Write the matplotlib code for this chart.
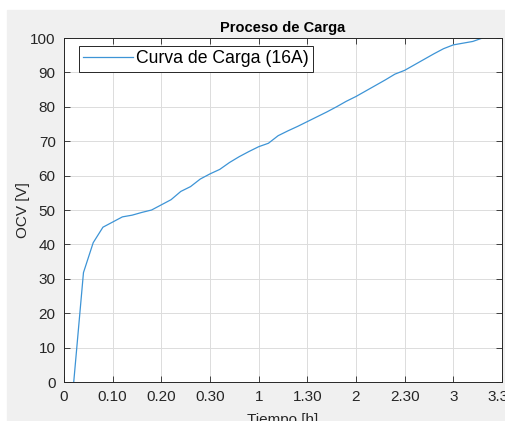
import matplotlib
matplotlib.use("Agg")
import matplotlib.pyplot as plt
from matplotlib.patches import Rectangle

plt.rcParams["font.family"] = ["Liberation Sans", "DejaVu Sans"]

# charge curve, x in tick units (one tick per half-hour label)
tiempo = [0.2, 0.4, 0.6, 0.8, 1.0, 1.2, 1.4, 1.6, 1.8, 2.0,
          2.2, 2.4, 2.6, 2.8, 3.0, 3.2, 3.4, 3.6, 3.8, 4.0,
          4.2, 4.4, 4.6, 4.8, 5.0, 5.2, 5.4, 5.6, 5.8, 6.0,
          6.2, 6.4, 6.6, 6.8, 7.0, 7.2, 7.4, 7.6, 7.8, 8.0,
          8.2, 8.4, 8.6]
ocv = [0, 31.8, 40.5, 45, 46.5, 48, 48.5, 49.3, 50, 51.5,
       53, 55.4, 56.8, 59, 60.5, 61.8, 63.8, 65.5, 67, 68.4,
       69.4, 71.6, 73, 74.3, 75.7, 77.1, 78.5, 80, 81.6, 83,
       84.6, 86.2, 87.8, 89.5, 90.6, 92.2, 93.8, 95.4, 96.9, 98,
       98.5, 99, 100]

xtick_pos = [0, 1, 2, 3, 4, 5, 6, 7, 8, 9]
xtick_labels = ["0", "0.10", "0.20", "0.30", "1", "1.30", "2", "2.30", "3", "3.30"]
ytick_pos = list(range(0, 101, 10))

fig = plt.figure(figsize=(5.05, 4.21), dpi=100, facecolor="white")
fig.patches.append(Rectangle((7 / 505, 0), 1, 1 - 10 / 421,
                             transform=fig.transFigure, color="#f0f0f0", zorder=-1))

ax = fig.add_axes([64 / 505, 39 / 421, 438 / 505, 344 / 421])
ax.plot(tiempo, ocv, color="#3d94d6", lw=0.9, label="Curva de Carga (16A)")

ax.set_xlim(0, 9)
ax.set_ylim(0, 100)
ax.set_xticks(xtick_pos)
ax.set_xticklabels(xtick_labels)
ax.set_yticks(ytick_pos)
ax.tick_params(direction="in", length=4, width=0.6, colors="#262626",
               labelsize=11, top=True, right=True, pad=6)
ax.grid(True, color="#dcdcdc", lw=0.7)
for s in ax.spines.values():
    s.set_color("#262626")
    s.set_linewidth(0.7)

ax.set_title("Proceso de Carga", fontsize=10.5, fontweight="bold", pad=4)
ax.set_ylabel("OCV [V]", fontsize=11, color="#262626", labelpad=0)
ax.set_xlabel("Tiempo [h]", fontsize=11, color="#262626", labelpad=6)

leg = ax.legend(loc="upper left", fontsize=12.7, fancybox=False, framealpha=1,
                edgecolor="#262626", borderpad=0.25, handlelength=2.8,
                handletextpad=0.2, borderaxespad=0,
                bbox_to_anchor=(15 / 438, 336 / 344))
leg.get_frame().set_linewidth(0.7)

fig.savefig("out.png", dpi=100)
